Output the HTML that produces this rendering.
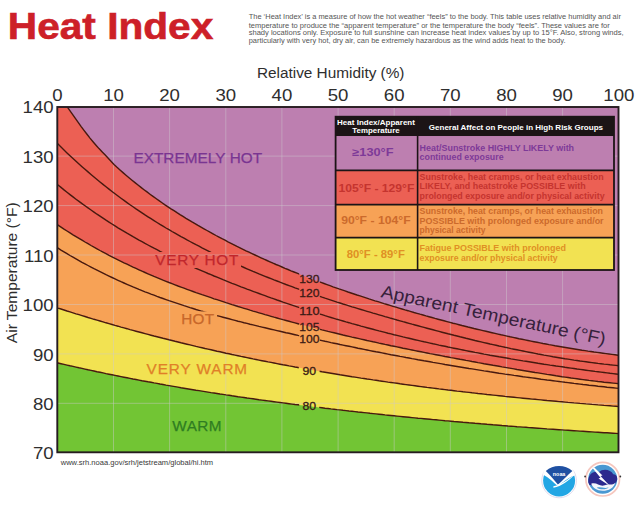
<!DOCTYPE html><html><head><meta charset="utf-8"><style>html,body{margin:0;padding:0;background:#fff;width:640px;height:512px;overflow:hidden}</style></head><body><svg width="640" height="512" viewBox="0 0 640 512" style="display:block;font-family:'Liberation Sans', sans-serif">
<defs>
<clipPath id="plot"><rect x="57.3" y="107.0" width="561.2" height="345.3"/></clipPath>
<mask id="gapmask" maskUnits="userSpaceOnUse" x="0" y="0" width="640" height="512"><rect x="0" y="0" width="640" height="512" fill="#fff"/>
<rect x="299.2" y="272" width="20.6" height="12" fill="#000"/>
<rect x="299.2" y="287" width="20.6" height="12" fill="#000"/>
<rect x="299.2" y="304.5" width="20.6" height="12" fill="#000"/>
<rect x="299.2" y="320.5" width="20.6" height="11" fill="#000"/>
<rect x="299.2" y="332" width="20.6" height="12.5" fill="#000"/>
<rect x="298.8" y="364" width="20.8" height="13" fill="#000"/>
<rect x="299.2" y="399.5" width="20" height="12.5" fill="#000"/>
<rect x="152" y="252" width="89" height="16" fill="#000"/>
<rect x="179" y="311.4" width="38" height="16" fill="#000"/>
</mask>
</defs>
<rect x="0" y="0" width="640" height="512" fill="#fff"/>
<text x="7.8" y="39.2" font-size="36.2" font-weight="bold" fill="#cd2028" stroke="#cd2028" stroke-width="0.6" textLength="205.5" lengthAdjust="spacingAndGlyphs">Heat Index</text>
<text x="248.7" y="19.2" font-size="7.5" fill="#555" textLength="372.2" lengthAdjust="spacingAndGlyphs">The ‘Heat Index’ is a measure of how the hot weather “feels” to the body. This table uses relative humidity and air</text>
<text x="248.7" y="27.5" font-size="7.5" fill="#555" textLength="361.1" lengthAdjust="spacingAndGlyphs">temperature to produce the “apparent temperature” or the temperature the body “feels”. These values are for</text>
<text x="248.7" y="35.45" font-size="7.5" fill="#555" textLength="374.9" lengthAdjust="spacingAndGlyphs">shady locations only. Exposure to full sunshine can increase heat index values by up to 15°F. Also, strong winds,</text>
<text x="248.7" y="43.4" font-size="7.5" fill="#555" textLength="316.8" lengthAdjust="spacingAndGlyphs">particularly with very hot, dry air, can be extremely hazardous as the wind adds heat to the body.</text>
<text x="256.9" y="78.3" font-size="15.5" fill="#2e2e2e" textLength="147.6" lengthAdjust="spacingAndGlyphs">Relative Humidity (%)</text>
<text transform="translate(57.4,101.4) scale(1.07,1)" font-size="17.4" fill="#2e2e2e" text-anchor="middle">0</text>
<text transform="translate(113.5,101.4) scale(1.07,1)" font-size="17.4" fill="#2e2e2e" text-anchor="middle">10</text>
<text transform="translate(169.6,101.4) scale(1.07,1)" font-size="17.4" fill="#2e2e2e" text-anchor="middle">20</text>
<text transform="translate(225.8,101.4) scale(1.07,1)" font-size="17.4" fill="#2e2e2e" text-anchor="middle">30</text>
<text transform="translate(281.9,101.4) scale(1.07,1)" font-size="17.4" fill="#2e2e2e" text-anchor="middle">40</text>
<text transform="translate(338.1,101.4) scale(1.07,1)" font-size="17.4" fill="#2e2e2e" text-anchor="middle">50</text>
<text transform="translate(394.2,101.4) scale(1.07,1)" font-size="17.4" fill="#2e2e2e" text-anchor="middle">60</text>
<text transform="translate(450.3,101.4) scale(1.07,1)" font-size="17.4" fill="#2e2e2e" text-anchor="middle">70</text>
<text transform="translate(506.5,101.4) scale(1.07,1)" font-size="17.4" fill="#2e2e2e" text-anchor="middle">80</text>
<text transform="translate(562.6,101.4) scale(1.07,1)" font-size="17.4" fill="#2e2e2e" text-anchor="middle">90</text>
<text transform="translate(618.8,101.4) scale(1.07,1)" font-size="17.4" fill="#2e2e2e" text-anchor="middle">100</text>
<text transform="translate(53.6,459.4) scale(1.07,1)" font-size="17.4" fill="#2e2e2e" text-anchor="end">70</text>
<text transform="translate(53.6,409.9) scale(1.07,1)" font-size="17.4" fill="#2e2e2e" text-anchor="end">80</text>
<text transform="translate(53.6,360.5) scale(1.07,1)" font-size="17.4" fill="#2e2e2e" text-anchor="end">90</text>
<text transform="translate(53.6,311.1) scale(1.07,1)" font-size="17.4" fill="#2e2e2e" text-anchor="end">100</text>
<text transform="translate(53.6,261.6) scale(1.07,1)" font-size="17.4" fill="#2e2e2e" text-anchor="end">110</text>
<text transform="translate(53.6,212.2) scale(1.07,1)" font-size="17.4" fill="#2e2e2e" text-anchor="end">120</text>
<text transform="translate(53.6,162.7) scale(1.07,1)" font-size="17.4" fill="#2e2e2e" text-anchor="end">130</text>
<text transform="translate(53.6,113.3) scale(1.07,1)" font-size="17.4" fill="#2e2e2e" text-anchor="end">140</text>
<text transform="translate(17.3,343.2) rotate(-90)" x="0" y="0" font-size="15" fill="#2e2e2e" textLength="140.9" lengthAdjust="spacingAndGlyphs">Air Temperature (°F)</text>
<g clip-path="url(#plot)">
<rect x="57.3" y="107.0" width="561.2" height="345.3" fill="#bd7fb0"/>
<path d="M60.0,96.5 L63.0,100.7 L66.0,105.0 L69.0,109.4 L72.0,113.6 L75.0,117.9 L78.0,122.1 L81.0,126.3 L84.0,130.3 L87.0,134.2 L90.0,138.1 L93.0,141.7 L96.0,145.2 L99.0,148.6 L102.0,151.7 L105.0,154.7 L108.0,157.9 L111.0,161.2 L114.0,164.4 L117.0,167.3 L120.0,170.0 L123.0,172.6 L126.0,175.2 L129.0,177.7 L132.0,180.2 L135.0,182.6 L138.0,185.0 L141.0,187.4 L144.0,189.7 L147.0,191.9 L150.0,194.2 L153.0,196.4 L156.0,198.5 L159.0,200.6 L162.0,202.7 L165.0,204.8 L168.0,206.8 L171.0,208.8 L174.0,210.7 L177.0,212.7 L180.0,214.6 L183.0,216.4 L186.0,218.3 L189.0,220.1 L192.0,221.9 L195.0,223.6 L198.0,225.4 L201.0,227.1 L204.0,228.8 L207.0,230.5 L210.0,232.2 L213.0,233.8 L216.0,235.5 L219.0,237.1 L222.0,238.7 L225.0,240.2 L228.0,241.8 L231.0,243.3 L234.0,244.8 L237.0,246.4 L240.0,247.8 L243.0,249.3 L246.0,250.8 L249.0,252.2 L252.0,253.6 L255.0,255.0 L258.0,256.4 L261.0,257.8 L264.0,259.2 L267.0,260.5 L270.0,261.8 L273.0,263.2 L276.0,264.5 L279.0,265.7 L282.0,267.0 L285.0,268.3 L288.0,269.5 L291.0,270.8 L294.0,272.0 L297.0,273.2 L300.0,274.4 L303.0,275.6 L306.0,276.7 L309.0,277.9 L312.0,279.0 L315.0,280.2 L318.0,281.3 L321.0,282.4 L324.0,283.5 L327.0,284.6 L330.0,285.7 L333.0,286.8 L336.0,287.8 L339.0,288.9 L342.0,289.9 L345.0,290.9 L348.0,292.0 L351.0,293.0 L354.0,294.0 L357.0,295.0 L360.0,295.9 L363.0,296.9 L366.0,297.9 L369.0,298.9 L372.0,299.8 L375.0,300.8 L378.0,301.7 L381.0,302.6 L384.0,303.6 L387.0,304.5 L390.0,305.4 L393.0,306.3 L396.0,307.2 L399.0,308.1 L402.0,309.0 L405.0,309.9 L408.0,310.7 L411.0,311.6 L414.0,312.5 L417.0,313.3 L420.0,314.2 L423.0,315.0 L426.0,315.9 L429.0,316.7 L432.0,317.5 L435.0,318.4 L438.0,319.2 L441.0,320.0 L444.0,320.8 L447.0,321.6 L450.0,322.4 L453.0,323.2 L456.0,323.9 L459.0,324.7 L462.0,325.5 L465.0,326.2 L468.0,327.0 L471.0,327.7 L474.0,328.5 L477.0,329.2 L480.0,329.9 L483.0,330.6 L486.0,331.3 L489.0,332.0 L492.0,332.7 L495.0,333.4 L498.0,334.1 L501.0,334.8 L504.0,335.4 L507.0,336.1 L510.0,336.8 L513.0,337.4 L516.0,338.0 L519.0,338.7 L522.0,339.3 L525.0,339.9 L528.0,340.5 L531.0,341.1 L534.0,341.7 L537.0,342.3 L540.0,342.9 L543.0,343.5 L546.0,344.0 L549.0,344.6 L552.0,345.1 L555.0,345.7 L558.0,346.2 L561.0,346.7 L564.0,347.2 L567.0,347.7 L570.0,348.2 L573.0,348.7 L576.0,349.2 L579.0,349.7 L582.0,350.2 L585.0,350.6 L588.0,351.1 L591.0,351.5 L594.0,352.0 L597.0,352.4 L600.0,352.8 L603.0,353.2 L606.0,353.6 L609.0,354.0 L612.0,354.4 L615.0,354.8 L618.0,355.2 L621.0,355.5 L624.0,355.9 L625.0,356.0 L625.0,460 L40,460 L40,96.5 Z" fill="#ec6054"/>
<path d="M52.0,221.1 L55.0,223.1 L58.0,225.1 L61.0,227.1 L64.0,229.1 L67.0,231.0 L70.0,232.9 L73.0,234.8 L76.0,236.6 L79.0,238.4 L82.0,240.2 L85.0,242.0 L88.0,243.7 L91.0,245.5 L94.0,247.2 L97.0,248.8 L100.0,250.5 L103.0,252.1 L106.0,253.7 L109.0,255.3 L112.0,256.8 L115.0,258.3 L118.0,259.8 L121.0,261.3 L124.0,262.8 L127.0,264.2 L130.0,265.7 L133.0,267.1 L136.0,268.4 L139.0,269.8 L142.0,271.2 L145.0,272.5 L148.0,273.8 L151.0,275.1 L154.0,276.4 L157.0,277.6 L160.0,278.8 L163.0,280.1 L166.0,281.3 L169.0,282.5 L172.0,283.6 L175.0,284.8 L178.0,286.0 L181.0,287.1 L184.0,288.2 L187.0,289.3 L190.0,290.4 L193.0,291.5 L196.0,292.6 L199.0,293.6 L202.0,294.7 L205.0,295.7 L208.0,296.7 L211.0,297.7 L214.0,298.8 L217.0,299.7 L220.0,300.7 L223.0,301.7 L226.0,302.7 L229.0,303.6 L232.0,304.6 L235.0,305.5 L238.0,306.5 L241.0,307.4 L244.0,308.3 L247.0,309.2 L250.0,310.2 L253.0,311.1 L256.0,311.9 L259.0,312.8 L262.0,313.7 L265.0,314.6 L268.0,315.4 L271.0,316.3 L274.0,317.2 L277.0,318.0 L280.0,318.8 L283.0,319.7 L286.0,320.5 L289.0,321.3 L292.0,322.1 L295.0,322.9 L298.0,323.7 L301.0,324.5 L304.0,325.3 L307.0,326.1 L310.0,326.8 L313.0,327.6 L316.0,328.4 L319.0,329.1 L322.0,329.9 L325.0,330.6 L328.0,331.4 L331.0,332.1 L334.0,332.8 L337.0,333.5 L340.0,334.2 L343.0,335.0 L346.0,335.7 L349.0,336.4 L352.0,337.1 L355.0,337.7 L358.0,338.4 L361.0,339.1 L364.0,339.8 L367.0,340.5 L370.0,341.1 L373.0,341.8 L376.0,342.4 L379.0,343.1 L382.0,343.7 L385.0,344.4 L388.0,345.0 L391.0,345.7 L394.0,346.3 L397.0,346.9 L400.0,347.5 L403.0,348.2 L406.0,348.8 L409.0,349.4 L412.0,350.0 L415.0,350.6 L418.0,351.2 L421.0,351.8 L424.0,352.4 L427.0,353.0 L430.0,353.6 L433.0,354.1 L436.0,354.7 L439.0,355.3 L442.0,355.9 L445.0,356.5 L448.0,357.0 L451.0,357.6 L454.0,358.1 L457.0,358.7 L460.0,359.3 L463.0,359.8 L466.0,360.4 L469.0,360.9 L472.0,361.5 L475.0,362.0 L478.0,362.6 L481.0,363.1 L484.0,363.7 L487.0,364.2 L490.0,364.7 L493.0,365.3 L496.0,365.8 L499.0,366.3 L502.0,366.9 L505.0,367.4 L508.0,367.9 L511.0,368.4 L514.0,368.9 L517.0,369.5 L520.0,370.0 L523.0,370.5 L526.0,371.0 L529.0,371.5 L532.0,372.0 L535.0,372.5 L538.0,372.9 L541.0,373.4 L544.0,373.9 L547.0,374.4 L550.0,374.8 L553.0,375.3 L556.0,375.8 L559.0,376.2 L562.0,376.7 L565.0,377.1 L568.0,377.5 L571.0,378.0 L574.0,378.4 L577.0,378.8 L580.0,379.2 L583.0,379.6 L586.0,380.0 L589.0,380.4 L592.0,380.7 L595.0,381.1 L598.0,381.5 L601.0,381.8 L604.0,382.2 L607.0,382.5 L610.0,382.8 L613.0,383.1 L616.0,383.4 L619.0,383.7 L622.0,384.0 L625.0,384.3 L625.0,460 L40,460 L40,221.1 Z" fill="#f7a256"/>
<path d="M52.0,306.1 L55.0,307.1 L58.0,308.1 L61.0,309.0 L64.0,310.0 L67.0,311.0 L70.0,311.9 L73.0,312.8 L76.0,313.8 L79.0,314.7 L82.0,315.6 L85.0,316.5 L88.0,317.5 L91.0,318.4 L94.0,319.3 L97.0,320.1 L100.0,321.0 L103.0,321.9 L106.0,322.8 L109.0,323.6 L112.0,324.5 L115.0,325.4 L118.0,326.2 L121.0,327.1 L124.0,327.9 L127.0,328.7 L130.0,329.6 L133.0,330.4 L136.0,331.2 L139.0,332.0 L142.0,332.8 L145.0,333.6 L148.0,334.4 L151.0,335.2 L154.0,336.0 L157.0,336.7 L160.0,337.5 L163.0,338.3 L166.0,339.0 L169.0,339.8 L172.0,340.5 L175.0,341.3 L178.0,342.0 L181.0,342.8 L184.0,343.5 L187.0,344.2 L190.0,344.9 L193.0,345.6 L196.0,346.4 L199.0,347.1 L202.0,347.8 L205.0,348.5 L208.0,349.1 L211.0,349.8 L214.0,350.5 L217.0,351.2 L220.0,351.8 L223.0,352.5 L226.0,353.2 L229.0,353.8 L232.0,354.5 L235.0,355.1 L238.0,355.7 L241.0,356.4 L244.0,357.0 L247.0,357.6 L250.0,358.2 L253.0,358.9 L256.0,359.5 L259.0,360.1 L262.0,360.7 L265.0,361.3 L268.0,361.9 L271.0,362.4 L274.0,363.0 L277.0,363.6 L280.0,364.2 L283.0,364.8 L286.0,365.3 L289.0,365.9 L292.0,366.4 L295.0,367.0 L298.0,367.5 L301.0,368.1 L304.0,368.6 L307.0,369.1 L310.0,369.7 L313.0,370.2 L316.0,370.7 L319.0,371.2 L322.0,371.8 L325.0,372.3 L328.0,372.8 L331.0,373.3 L334.0,373.8 L337.0,374.3 L340.0,374.8 L343.0,375.2 L346.0,375.7 L349.0,376.2 L352.0,376.7 L355.0,377.1 L358.0,377.6 L361.0,378.1 L364.0,378.5 L367.0,379.0 L370.0,379.4 L373.0,379.9 L376.0,380.3 L379.0,380.8 L382.0,381.2 L385.0,381.6 L388.0,382.1 L391.0,382.5 L394.0,382.9 L397.0,383.3 L400.0,383.8 L403.0,384.2 L406.0,384.6 L409.0,385.0 L412.0,385.4 L415.0,385.8 L418.0,386.2 L421.0,386.6 L424.0,387.0 L427.0,387.4 L430.0,387.7 L433.0,388.1 L436.0,388.5 L439.0,388.9 L442.0,389.2 L445.0,389.6 L448.0,390.0 L451.0,390.3 L454.0,390.7 L457.0,391.1 L460.0,391.4 L463.0,391.8 L466.0,392.1 L469.0,392.4 L472.0,392.8 L475.0,393.1 L478.0,393.5 L481.0,393.8 L484.0,394.1 L487.0,394.5 L490.0,394.8 L493.0,395.1 L496.0,395.4 L499.0,395.7 L502.0,396.0 L505.0,396.4 L508.0,396.7 L511.0,397.0 L514.0,397.3 L517.0,397.6 L520.0,397.9 L523.0,398.2 L526.0,398.5 L529.0,398.8 L532.0,399.1 L535.0,399.3 L538.0,399.6 L541.0,399.9 L544.0,400.2 L547.0,400.5 L550.0,400.7 L553.0,401.0 L556.0,401.3 L559.0,401.6 L562.0,401.8 L565.0,402.1 L568.0,402.4 L571.0,402.6 L574.0,402.9 L577.0,403.1 L580.0,403.4 L583.0,403.6 L586.0,403.9 L589.0,404.1 L592.0,404.4 L595.0,404.6 L598.0,404.9 L601.0,405.1 L604.0,405.4 L607.0,405.6 L610.0,405.8 L613.0,406.1 L616.0,406.3 L619.0,406.6 L622.0,406.8 L625.0,407.0 L625.0,460 L40,460 L40,306.1 Z" fill="#f2e252"/>
<path d="M52.0,361.6 L55.0,362.3 L58.0,363.0 L61.0,363.7 L64.0,364.4 L67.0,365.1 L70.0,365.8 L73.0,366.4 L76.0,367.1 L79.0,367.8 L82.0,368.4 L85.0,369.1 L88.0,369.8 L91.0,370.4 L94.0,371.0 L97.0,371.7 L100.0,372.3 L103.0,372.9 L106.0,373.6 L109.0,374.2 L112.0,374.8 L115.0,375.4 L118.0,376.0 L121.0,376.6 L124.0,377.2 L127.0,377.8 L130.0,378.4 L133.0,379.0 L136.0,379.5 L139.0,380.1 L142.0,380.7 L145.0,381.2 L148.0,381.8 L151.0,382.3 L154.0,382.9 L157.0,383.4 L160.0,384.0 L163.0,384.5 L166.0,385.1 L169.0,385.6 L172.0,386.1 L175.0,386.6 L178.0,387.1 L181.0,387.7 L184.0,388.2 L187.0,388.7 L190.0,389.2 L193.0,389.7 L196.0,390.2 L199.0,390.6 L202.0,391.1 L205.0,391.6 L208.0,392.1 L211.0,392.6 L214.0,393.0 L217.0,393.5 L220.0,394.0 L223.0,394.4 L226.0,394.9 L229.0,395.3 L232.0,395.8 L235.0,396.2 L238.0,396.7 L241.0,397.1 L244.0,397.5 L247.0,398.0 L250.0,398.4 L253.0,398.8 L256.0,399.2 L259.0,399.7 L262.0,400.1 L265.0,400.5 L268.0,400.9 L271.0,401.3 L274.0,401.7 L277.0,402.1 L280.0,402.5 L283.0,402.9 L286.0,403.3 L289.0,403.7 L292.0,404.1 L295.0,404.5 L298.0,404.8 L301.0,405.2 L304.0,405.6 L307.0,406.0 L310.0,406.3 L313.0,406.7 L316.0,407.1 L319.0,407.4 L322.0,407.8 L325.0,408.2 L328.0,408.5 L331.0,408.9 L334.0,409.2 L337.0,409.6 L340.0,409.9 L343.0,410.3 L346.0,410.6 L349.0,411.0 L352.0,411.3 L355.0,411.6 L358.0,412.0 L361.0,412.3 L364.0,412.6 L367.0,412.9 L370.0,413.3 L373.0,413.6 L376.0,413.9 L379.0,414.2 L382.0,414.5 L385.0,414.9 L388.0,415.2 L391.0,415.5 L394.0,415.8 L397.0,416.1 L400.0,416.4 L403.0,416.7 L406.0,417.0 L409.0,417.3 L412.0,417.6 L415.0,417.9 L418.0,418.2 L421.0,418.4 L424.0,418.7 L427.0,419.0 L430.0,419.3 L433.0,419.6 L436.0,419.8 L439.0,420.1 L442.0,420.4 L445.0,420.7 L448.0,420.9 L451.0,421.2 L454.0,421.5 L457.0,421.7 L460.0,422.0 L463.0,422.3 L466.0,422.5 L469.0,422.8 L472.0,423.0 L475.0,423.3 L478.0,423.5 L481.0,423.8 L484.0,424.0 L487.0,424.3 L490.0,424.5 L493.0,424.8 L496.0,425.0 L499.0,425.2 L502.0,425.5 L505.0,425.7 L508.0,426.0 L511.0,426.2 L514.0,426.4 L517.0,426.7 L520.0,426.9 L523.0,427.1 L526.0,427.3 L529.0,427.6 L532.0,427.8 L535.0,428.0 L538.0,428.2 L541.0,428.4 L544.0,428.6 L547.0,428.9 L550.0,429.1 L553.0,429.3 L556.0,429.5 L559.0,429.7 L562.0,429.9 L565.0,430.1 L568.0,430.3 L571.0,430.5 L574.0,430.7 L577.0,430.9 L580.0,431.1 L583.0,431.3 L586.0,431.5 L589.0,431.7 L592.0,431.9 L595.0,432.1 L598.0,432.3 L601.0,432.5 L604.0,432.7 L607.0,432.8 L610.0,433.0 L613.0,433.2 L616.0,433.4 L619.0,433.6 L622.0,433.8 L625.0,433.9 L625.0,460 L40,460 L40,361.6 Z" fill="#72c534"/>
<line x1="113.5" y1="107.0" x2="113.5" y2="452.3" stroke="#cfcacf" stroke-opacity="0.45" stroke-width="1"/>
<line x1="169.6" y1="107.0" x2="169.6" y2="452.3" stroke="#cfcacf" stroke-opacity="0.45" stroke-width="1"/>
<line x1="225.8" y1="107.0" x2="225.8" y2="452.3" stroke="#cfcacf" stroke-opacity="0.45" stroke-width="1"/>
<line x1="281.9" y1="107.0" x2="281.9" y2="452.3" stroke="#cfcacf" stroke-opacity="0.45" stroke-width="1"/>
<line x1="338.1" y1="107.0" x2="338.1" y2="452.3" stroke="#cfcacf" stroke-opacity="0.45" stroke-width="1"/>
<line x1="394.2" y1="107.0" x2="394.2" y2="452.3" stroke="#cfcacf" stroke-opacity="0.45" stroke-width="1"/>
<line x1="450.3" y1="107.0" x2="450.3" y2="452.3" stroke="#cfcacf" stroke-opacity="0.45" stroke-width="1"/>
<line x1="506.5" y1="107.0" x2="506.5" y2="452.3" stroke="#cfcacf" stroke-opacity="0.45" stroke-width="1"/>
<line x1="562.6" y1="107.0" x2="562.6" y2="452.3" stroke="#cfcacf" stroke-opacity="0.45" stroke-width="1"/>
<line x1="57.3" y1="403.3" x2="618.5" y2="403.3" stroke="#cfcacf" stroke-opacity="0.45" stroke-width="1"/>
<line x1="57.3" y1="353.9" x2="618.5" y2="353.9" stroke="#cfcacf" stroke-opacity="0.45" stroke-width="1"/>
<line x1="57.3" y1="304.5" x2="618.5" y2="304.5" stroke="#cfcacf" stroke-opacity="0.45" stroke-width="1"/>
<line x1="57.3" y1="255.0" x2="618.5" y2="255.0" stroke="#cfcacf" stroke-opacity="0.45" stroke-width="1"/>
<line x1="57.3" y1="205.6" x2="618.5" y2="205.6" stroke="#cfcacf" stroke-opacity="0.45" stroke-width="1"/>
<line x1="57.3" y1="156.1" x2="618.5" y2="156.1" stroke="#cfcacf" stroke-opacity="0.45" stroke-width="1"/>
<g mask="url(#gapmask)" fill="none" stroke="#48190f" stroke-width="1.4">
<path d="M60.0,96.5 L63.0,100.7 L66.0,105.0 L69.0,109.4 L72.0,113.6 L75.0,117.9 L78.0,122.1 L81.0,126.3 L84.0,130.3 L87.0,134.2 L90.0,138.1 L93.0,141.7 L96.0,145.2 L99.0,148.6 L102.0,151.7 L105.0,154.7 L108.0,157.9 L111.0,161.2 L114.0,164.4 L117.0,167.3 L120.0,170.0 L123.0,172.6 L126.0,175.2 L129.0,177.7 L132.0,180.2 L135.0,182.6 L138.0,185.0 L141.0,187.4 L144.0,189.7 L147.0,191.9 L150.0,194.2 L153.0,196.4 L156.0,198.5 L159.0,200.6 L162.0,202.7 L165.0,204.8 L168.0,206.8 L171.0,208.8 L174.0,210.7 L177.0,212.7 L180.0,214.6 L183.0,216.4 L186.0,218.3 L189.0,220.1 L192.0,221.9 L195.0,223.6 L198.0,225.4 L201.0,227.1 L204.0,228.8 L207.0,230.5 L210.0,232.2 L213.0,233.8 L216.0,235.5 L219.0,237.1 L222.0,238.7 L225.0,240.2 L228.0,241.8 L231.0,243.3 L234.0,244.8 L237.0,246.4 L240.0,247.8 L243.0,249.3 L246.0,250.8 L249.0,252.2 L252.0,253.6 L255.0,255.0 L258.0,256.4 L261.0,257.8 L264.0,259.2 L267.0,260.5 L270.0,261.8 L273.0,263.2 L276.0,264.5 L279.0,265.7 L282.0,267.0 L285.0,268.3 L288.0,269.5 L291.0,270.8 L294.0,272.0 L297.0,273.2 L300.0,274.4 L303.0,275.6 L306.0,276.7 L309.0,277.9 L312.0,279.0 L315.0,280.2 L318.0,281.3 L321.0,282.4 L324.0,283.5 L327.0,284.6 L330.0,285.7 L333.0,286.8 L336.0,287.8 L339.0,288.9 L342.0,289.9 L345.0,290.9 L348.0,292.0 L351.0,293.0 L354.0,294.0 L357.0,295.0 L360.0,295.9 L363.0,296.9 L366.0,297.9 L369.0,298.9 L372.0,299.8 L375.0,300.8 L378.0,301.7 L381.0,302.6 L384.0,303.6 L387.0,304.5 L390.0,305.4 L393.0,306.3 L396.0,307.2 L399.0,308.1 L402.0,309.0 L405.0,309.9 L408.0,310.7 L411.0,311.6 L414.0,312.5 L417.0,313.3 L420.0,314.2 L423.0,315.0 L426.0,315.9 L429.0,316.7 L432.0,317.5 L435.0,318.4 L438.0,319.2 L441.0,320.0 L444.0,320.8 L447.0,321.6 L450.0,322.4 L453.0,323.2 L456.0,323.9 L459.0,324.7 L462.0,325.5 L465.0,326.2 L468.0,327.0 L471.0,327.7 L474.0,328.5 L477.0,329.2 L480.0,329.9 L483.0,330.6 L486.0,331.3 L489.0,332.0 L492.0,332.7 L495.0,333.4 L498.0,334.1 L501.0,334.8 L504.0,335.4 L507.0,336.1 L510.0,336.8 L513.0,337.4 L516.0,338.0 L519.0,338.7 L522.0,339.3 L525.0,339.9 L528.0,340.5 L531.0,341.1 L534.0,341.7 L537.0,342.3 L540.0,342.9 L543.0,343.5 L546.0,344.0 L549.0,344.6 L552.0,345.1 L555.0,345.7 L558.0,346.2 L561.0,346.7 L564.0,347.2 L567.0,347.7 L570.0,348.2 L573.0,348.7 L576.0,349.2 L579.0,349.7 L582.0,350.2 L585.0,350.6 L588.0,351.1 L591.0,351.5 L594.0,352.0 L597.0,352.4 L600.0,352.8 L603.0,353.2 L606.0,353.6 L609.0,354.0 L612.0,354.4 L615.0,354.8 L618.0,355.2 L621.0,355.5 L624.0,355.9 L625.0,356.0"/>
<path d="M52.0,138.1 L55.0,141.1 L58.0,144.1 L61.0,147.1 L64.0,150.0 L67.0,152.9 L70.0,155.7 L73.0,158.5 L76.0,161.3 L79.0,164.0 L82.0,166.7 L85.0,169.3 L88.0,171.9 L91.0,174.5 L94.0,177.0 L97.0,179.5 L100.0,182.0 L103.0,184.4 L106.0,186.8 L109.0,189.1 L112.0,191.5 L115.0,193.8 L118.0,196.0 L121.0,198.2 L124.0,200.4 L127.0,202.6 L130.0,204.7 L133.0,206.8 L136.0,208.9 L139.0,210.9 L142.0,212.9 L145.0,214.9 L148.0,216.8 L151.0,218.7 L154.0,220.6 L157.0,222.5 L160.0,224.4 L163.0,226.2 L166.0,228.0 L169.0,229.7 L172.0,231.5 L175.0,233.2 L178.0,234.9 L181.0,236.6 L184.0,238.2 L187.0,239.9 L190.0,241.5 L193.0,243.1 L196.0,244.7 L199.0,246.2 L202.0,247.8 L205.0,249.3 L208.0,250.8 L211.0,252.3 L214.0,253.7 L217.0,255.2 L220.0,256.6 L223.0,258.0 L226.0,259.4 L229.0,260.8 L232.0,262.2 L235.0,263.5 L238.0,264.9 L241.0,266.2 L244.0,267.5 L247.0,268.8 L250.0,270.1 L253.0,271.4 L256.0,272.6 L259.0,273.9 L262.0,275.1 L265.0,276.3 L268.0,277.5 L271.0,278.7 L274.0,279.9 L277.0,281.0 L280.0,282.2 L283.0,283.3 L286.0,284.5 L289.0,285.6 L292.0,286.7 L295.0,287.8 L298.0,288.8 L301.0,289.9 L304.0,291.0 L307.0,292.0 L310.0,293.1 L313.0,294.1 L316.0,295.1 L319.0,296.1 L322.0,297.2 L325.0,298.2 L328.0,299.1 L331.0,300.1 L334.0,301.1 L337.0,302.1 L340.0,303.0 L343.0,304.0 L346.0,304.9 L349.0,305.8 L352.0,306.8 L355.0,307.7 L358.0,308.6 L361.0,309.5 L364.0,310.4 L367.0,311.3 L370.0,312.2 L373.0,313.1 L376.0,313.9 L379.0,314.8 L382.0,315.7 L385.0,316.6 L388.0,317.4 L391.0,318.3 L394.0,319.1 L397.0,320.0 L400.0,320.8 L403.0,321.7 L406.0,322.5 L409.0,323.3 L412.0,324.2 L415.0,325.0 L418.0,325.8 L421.0,326.6 L424.0,327.4 L427.0,328.2 L430.0,329.0 L433.0,329.8 L436.0,330.6 L439.0,331.4 L442.0,332.2 L445.0,333.0 L448.0,333.8 L451.0,334.5 L454.0,335.3 L457.0,336.0 L460.0,336.8 L463.0,337.5 L466.0,338.3 L469.0,339.0 L472.0,339.7 L475.0,340.5 L478.0,341.2 L481.0,341.9 L484.0,342.6 L487.0,343.3 L490.0,344.0 L493.0,344.6 L496.0,345.3 L499.0,346.0 L502.0,346.6 L505.0,347.3 L508.0,347.9 L511.0,348.6 L514.0,349.2 L517.0,349.8 L520.0,350.4 L523.0,351.0 L526.0,351.6 L529.0,352.2 L532.0,352.8 L535.0,353.4 L538.0,354.0 L541.0,354.5 L544.0,355.1 L547.0,355.6 L550.0,356.1 L553.0,356.7 L556.0,357.2 L559.0,357.7 L562.0,358.2 L565.0,358.7 L568.0,359.1 L571.0,359.6 L574.0,360.1 L577.0,360.5 L580.0,361.0 L583.0,361.4 L586.0,361.8 L589.0,362.2 L592.0,362.6 L595.0,363.0 L598.0,363.4 L601.0,363.7 L604.0,364.1 L607.0,364.4 L610.0,364.8 L613.0,365.1 L616.0,365.4 L619.0,365.7 L622.0,366.0 L625.0,366.3"/>
<path d="M52.0,180.0 L55.0,182.5 L58.0,185.0 L61.0,187.4 L64.0,189.9 L67.0,192.2 L70.0,194.6 L73.0,196.9 L76.0,199.2 L79.0,201.4 L82.0,203.6 L85.0,205.8 L88.0,207.9 L91.0,210.0 L94.0,212.1 L97.0,214.2 L100.0,216.2 L103.0,218.2 L106.0,220.2 L109.0,222.1 L112.0,224.0 L115.0,225.9 L118.0,227.8 L121.0,229.6 L124.0,231.4 L127.0,233.2 L130.0,234.9 L133.0,236.7 L136.0,238.4 L139.0,240.1 L142.0,241.7 L145.0,243.4 L148.0,245.0 L151.0,246.6 L154.0,248.2 L157.0,249.7 L160.0,251.3 L163.0,252.8 L166.0,254.3 L169.0,255.7 L172.0,257.2 L175.0,258.6 L178.0,260.1 L181.0,261.5 L184.0,262.9 L187.0,264.2 L190.0,265.6 L193.0,266.9 L196.0,268.3 L199.0,269.6 L202.0,270.9 L205.0,272.2 L208.0,273.5 L211.0,274.7 L214.0,276.0 L217.0,277.2 L220.0,278.4 L223.0,279.7 L226.0,280.9 L229.0,282.1 L232.0,283.3 L235.0,284.4 L238.0,285.6 L241.0,286.8 L244.0,287.9 L247.0,289.1 L250.0,290.2 L253.0,291.3 L256.0,292.4 L259.0,293.5 L262.0,294.6 L265.0,295.7 L268.0,296.8 L271.0,297.9 L274.0,298.9 L277.0,300.0 L280.0,301.0 L283.0,302.1 L286.0,303.1 L289.0,304.1 L292.0,305.1 L295.0,306.1 L298.0,307.1 L301.0,308.1 L304.0,309.1 L307.0,310.0 L310.0,311.0 L313.0,311.9 L316.0,312.9 L319.0,313.8 L322.0,314.7 L325.0,315.7 L328.0,316.6 L331.0,317.5 L334.0,318.4 L337.0,319.3 L340.0,320.1 L343.0,321.0 L346.0,321.9 L349.0,322.7 L352.0,323.6 L355.0,324.4 L358.0,325.2 L361.0,326.1 L364.0,326.9 L367.0,327.7 L370.0,328.5 L373.0,329.3 L376.0,330.1 L379.0,330.9 L382.0,331.6 L385.0,332.4 L388.0,333.2 L391.0,333.9 L394.0,334.7 L397.0,335.4 L400.0,336.1 L403.0,336.9 L406.0,337.6 L409.0,338.3 L412.0,339.0 L415.0,339.7 L418.0,340.4 L421.0,341.1 L424.0,341.8 L427.0,342.4 L430.0,343.1 L433.0,343.8 L436.0,344.4 L439.0,345.1 L442.0,345.7 L445.0,346.3 L448.0,347.0 L451.0,347.6 L454.0,348.2 L457.0,348.8 L460.0,349.4 L463.0,350.0 L466.0,350.6 L469.0,351.2 L472.0,351.8 L475.0,352.4 L478.0,352.9 L481.0,353.5 L484.0,354.1 L487.0,354.6 L490.0,355.2 L493.0,355.7 L496.0,356.2 L499.0,356.8 L502.0,357.3 L505.0,357.8 L508.0,358.3 L511.0,358.9 L514.0,359.4 L517.0,359.9 L520.0,360.4 L523.0,360.9 L526.0,361.3 L529.0,361.8 L532.0,362.3 L535.0,362.8 L538.0,363.3 L541.0,363.7 L544.0,364.2 L547.0,364.6 L550.0,365.1 L553.0,365.5 L556.0,366.0 L559.0,366.4 L562.0,366.8 L565.0,367.3 L568.0,367.7 L571.0,368.1 L574.0,368.5 L577.0,369.0 L580.0,369.4 L583.0,369.8 L586.0,370.2 L589.0,370.6 L592.0,371.0 L595.0,371.4 L598.0,371.7 L601.0,372.1 L604.0,372.5 L607.0,372.9 L610.0,373.3 L613.0,373.6 L616.0,374.0 L619.0,374.4 L622.0,374.7 L625.0,375.1"/>
<path d="M52.0,221.1 L55.0,223.1 L58.0,225.1 L61.0,227.1 L64.0,229.1 L67.0,231.0 L70.0,232.9 L73.0,234.8 L76.0,236.6 L79.0,238.4 L82.0,240.2 L85.0,242.0 L88.0,243.7 L91.0,245.5 L94.0,247.2 L97.0,248.8 L100.0,250.5 L103.0,252.1 L106.0,253.7 L109.0,255.3 L112.0,256.8 L115.0,258.3 L118.0,259.8 L121.0,261.3 L124.0,262.8 L127.0,264.2 L130.0,265.7 L133.0,267.1 L136.0,268.4 L139.0,269.8 L142.0,271.2 L145.0,272.5 L148.0,273.8 L151.0,275.1 L154.0,276.4 L157.0,277.6 L160.0,278.8 L163.0,280.1 L166.0,281.3 L169.0,282.5 L172.0,283.6 L175.0,284.8 L178.0,286.0 L181.0,287.1 L184.0,288.2 L187.0,289.3 L190.0,290.4 L193.0,291.5 L196.0,292.6 L199.0,293.6 L202.0,294.7 L205.0,295.7 L208.0,296.7 L211.0,297.7 L214.0,298.8 L217.0,299.7 L220.0,300.7 L223.0,301.7 L226.0,302.7 L229.0,303.6 L232.0,304.6 L235.0,305.5 L238.0,306.5 L241.0,307.4 L244.0,308.3 L247.0,309.2 L250.0,310.2 L253.0,311.1 L256.0,311.9 L259.0,312.8 L262.0,313.7 L265.0,314.6 L268.0,315.4 L271.0,316.3 L274.0,317.2 L277.0,318.0 L280.0,318.8 L283.0,319.7 L286.0,320.5 L289.0,321.3 L292.0,322.1 L295.0,322.9 L298.0,323.7 L301.0,324.5 L304.0,325.3 L307.0,326.1 L310.0,326.8 L313.0,327.6 L316.0,328.4 L319.0,329.1 L322.0,329.9 L325.0,330.6 L328.0,331.4 L331.0,332.1 L334.0,332.8 L337.0,333.5 L340.0,334.2 L343.0,335.0 L346.0,335.7 L349.0,336.4 L352.0,337.1 L355.0,337.7 L358.0,338.4 L361.0,339.1 L364.0,339.8 L367.0,340.5 L370.0,341.1 L373.0,341.8 L376.0,342.4 L379.0,343.1 L382.0,343.7 L385.0,344.4 L388.0,345.0 L391.0,345.7 L394.0,346.3 L397.0,346.9 L400.0,347.5 L403.0,348.2 L406.0,348.8 L409.0,349.4 L412.0,350.0 L415.0,350.6 L418.0,351.2 L421.0,351.8 L424.0,352.4 L427.0,353.0 L430.0,353.6 L433.0,354.1 L436.0,354.7 L439.0,355.3 L442.0,355.9 L445.0,356.5 L448.0,357.0 L451.0,357.6 L454.0,358.1 L457.0,358.7 L460.0,359.3 L463.0,359.8 L466.0,360.4 L469.0,360.9 L472.0,361.5 L475.0,362.0 L478.0,362.6 L481.0,363.1 L484.0,363.7 L487.0,364.2 L490.0,364.7 L493.0,365.3 L496.0,365.8 L499.0,366.3 L502.0,366.9 L505.0,367.4 L508.0,367.9 L511.0,368.4 L514.0,368.9 L517.0,369.5 L520.0,370.0 L523.0,370.5 L526.0,371.0 L529.0,371.5 L532.0,372.0 L535.0,372.5 L538.0,372.9 L541.0,373.4 L544.0,373.9 L547.0,374.4 L550.0,374.8 L553.0,375.3 L556.0,375.8 L559.0,376.2 L562.0,376.7 L565.0,377.1 L568.0,377.5 L571.0,378.0 L574.0,378.4 L577.0,378.8 L580.0,379.2 L583.0,379.6 L586.0,380.0 L589.0,380.4 L592.0,380.7 L595.0,381.1 L598.0,381.5 L601.0,381.8 L604.0,382.2 L607.0,382.5 L610.0,382.8 L613.0,383.1 L616.0,383.4 L619.0,383.7 L622.0,384.0 L625.0,384.3"/>
<path d="M52.0,244.4 L55.0,246.3 L58.0,248.2 L61.0,250.1 L64.0,251.9 L67.0,253.7 L70.0,255.5 L73.0,257.2 L76.0,258.9 L79.0,260.6 L82.0,262.3 L85.0,263.9 L88.0,265.5 L91.0,267.1 L94.0,268.7 L97.0,270.2 L100.0,271.7 L103.0,273.2 L106.0,274.7 L109.0,276.1 L112.0,277.5 L115.0,278.9 L118.0,280.3 L121.0,281.7 L124.0,283.0 L127.0,284.3 L130.0,285.6 L133.0,286.9 L136.0,288.1 L139.0,289.4 L142.0,290.6 L145.0,291.8 L148.0,292.9 L151.0,294.1 L154.0,295.2 L157.0,296.4 L160.0,297.5 L163.0,298.5 L166.0,299.6 L169.0,300.7 L172.0,301.7 L175.0,302.7 L178.0,303.7 L181.0,304.7 L184.0,305.7 L187.0,306.6 L190.0,307.6 L193.0,308.5 L196.0,309.5 L199.0,310.4 L202.0,311.3 L205.0,312.1 L208.0,313.0 L211.0,313.9 L214.0,314.7 L217.0,315.6 L220.0,316.4 L223.0,317.2 L226.0,318.0 L229.0,318.8 L232.0,319.6 L235.0,320.4 L238.0,321.2 L241.0,321.9 L244.0,322.7 L247.0,323.4 L250.0,324.2 L253.0,324.9 L256.0,325.6 L259.0,326.4 L262.0,327.1 L265.0,327.8 L268.0,328.5 L271.0,329.2 L274.0,329.9 L277.0,330.6 L280.0,331.3 L283.0,332.0 L286.0,332.7 L289.0,333.3 L292.0,334.0 L295.0,334.7 L298.0,335.4 L301.0,336.0 L304.0,336.7 L307.0,337.4 L310.0,338.0 L313.0,338.7 L316.0,339.3 L319.0,340.0 L322.0,340.6 L325.0,341.3 L328.0,341.9 L331.0,342.6 L334.0,343.2 L337.0,343.8 L340.0,344.5 L343.0,345.1 L346.0,345.7 L349.0,346.3 L352.0,346.9 L355.0,347.5 L358.0,348.2 L361.0,348.8 L364.0,349.4 L367.0,350.0 L370.0,350.6 L373.0,351.2 L376.0,351.8 L379.0,352.3 L382.0,352.9 L385.0,353.5 L388.0,354.1 L391.0,354.7 L394.0,355.2 L397.0,355.8 L400.0,356.4 L403.0,356.9 L406.0,357.5 L409.0,358.0 L412.0,358.6 L415.0,359.1 L418.0,359.7 L421.0,360.2 L424.0,360.8 L427.0,361.3 L430.0,361.8 L433.0,362.4 L436.0,362.9 L439.0,363.4 L442.0,363.9 L445.0,364.5 L448.0,365.0 L451.0,365.5 L454.0,366.0 L457.0,366.5 L460.0,367.0 L463.0,367.5 L466.0,368.0 L469.0,368.5 L472.0,368.9 L475.0,369.4 L478.0,369.9 L481.0,370.4 L484.0,370.9 L487.0,371.3 L490.0,371.8 L493.0,372.2 L496.0,372.7 L499.0,373.2 L502.0,373.6 L505.0,374.1 L508.0,374.5 L511.0,374.9 L514.0,375.4 L517.0,375.8 L520.0,376.2 L523.0,376.7 L526.0,377.1 L529.0,377.5 L532.0,377.9 L535.0,378.3 L538.0,378.7 L541.0,379.2 L544.0,379.6 L547.0,380.0 L550.0,380.3 L553.0,380.7 L556.0,381.1 L559.0,381.5 L562.0,381.9 L565.0,382.3 L568.0,382.6 L571.0,383.0 L574.0,383.4 L577.0,383.7 L580.0,384.1 L583.0,384.5 L586.0,384.8 L589.0,385.2 L592.0,385.5 L595.0,385.8 L598.0,386.2 L601.0,386.5 L604.0,386.8 L607.0,387.2 L610.0,387.5 L613.0,387.8 L616.0,388.1 L619.0,388.4 L622.0,388.7 L625.0,389.0"/>
<path d="M52.0,306.1 L55.0,307.1 L58.0,308.1 L61.0,309.0 L64.0,310.0 L67.0,311.0 L70.0,311.9 L73.0,312.8 L76.0,313.8 L79.0,314.7 L82.0,315.6 L85.0,316.5 L88.0,317.5 L91.0,318.4 L94.0,319.3 L97.0,320.1 L100.0,321.0 L103.0,321.9 L106.0,322.8 L109.0,323.6 L112.0,324.5 L115.0,325.4 L118.0,326.2 L121.0,327.1 L124.0,327.9 L127.0,328.7 L130.0,329.6 L133.0,330.4 L136.0,331.2 L139.0,332.0 L142.0,332.8 L145.0,333.6 L148.0,334.4 L151.0,335.2 L154.0,336.0 L157.0,336.7 L160.0,337.5 L163.0,338.3 L166.0,339.0 L169.0,339.8 L172.0,340.5 L175.0,341.3 L178.0,342.0 L181.0,342.8 L184.0,343.5 L187.0,344.2 L190.0,344.9 L193.0,345.6 L196.0,346.4 L199.0,347.1 L202.0,347.8 L205.0,348.5 L208.0,349.1 L211.0,349.8 L214.0,350.5 L217.0,351.2 L220.0,351.8 L223.0,352.5 L226.0,353.2 L229.0,353.8 L232.0,354.5 L235.0,355.1 L238.0,355.7 L241.0,356.4 L244.0,357.0 L247.0,357.6 L250.0,358.2 L253.0,358.9 L256.0,359.5 L259.0,360.1 L262.0,360.7 L265.0,361.3 L268.0,361.9 L271.0,362.4 L274.0,363.0 L277.0,363.6 L280.0,364.2 L283.0,364.8 L286.0,365.3 L289.0,365.9 L292.0,366.4 L295.0,367.0 L298.0,367.5 L301.0,368.1 L304.0,368.6 L307.0,369.1 L310.0,369.7 L313.0,370.2 L316.0,370.7 L319.0,371.2 L322.0,371.8 L325.0,372.3 L328.0,372.8 L331.0,373.3 L334.0,373.8 L337.0,374.3 L340.0,374.8 L343.0,375.2 L346.0,375.7 L349.0,376.2 L352.0,376.7 L355.0,377.1 L358.0,377.6 L361.0,378.1 L364.0,378.5 L367.0,379.0 L370.0,379.4 L373.0,379.9 L376.0,380.3 L379.0,380.8 L382.0,381.2 L385.0,381.6 L388.0,382.1 L391.0,382.5 L394.0,382.9 L397.0,383.3 L400.0,383.8 L403.0,384.2 L406.0,384.6 L409.0,385.0 L412.0,385.4 L415.0,385.8 L418.0,386.2 L421.0,386.6 L424.0,387.0 L427.0,387.4 L430.0,387.7 L433.0,388.1 L436.0,388.5 L439.0,388.9 L442.0,389.2 L445.0,389.6 L448.0,390.0 L451.0,390.3 L454.0,390.7 L457.0,391.1 L460.0,391.4 L463.0,391.8 L466.0,392.1 L469.0,392.4 L472.0,392.8 L475.0,393.1 L478.0,393.5 L481.0,393.8 L484.0,394.1 L487.0,394.5 L490.0,394.8 L493.0,395.1 L496.0,395.4 L499.0,395.7 L502.0,396.0 L505.0,396.4 L508.0,396.7 L511.0,397.0 L514.0,397.3 L517.0,397.6 L520.0,397.9 L523.0,398.2 L526.0,398.5 L529.0,398.8 L532.0,399.1 L535.0,399.3 L538.0,399.6 L541.0,399.9 L544.0,400.2 L547.0,400.5 L550.0,400.7 L553.0,401.0 L556.0,401.3 L559.0,401.6 L562.0,401.8 L565.0,402.1 L568.0,402.4 L571.0,402.6 L574.0,402.9 L577.0,403.1 L580.0,403.4 L583.0,403.6 L586.0,403.9 L589.0,404.1 L592.0,404.4 L595.0,404.6 L598.0,404.9 L601.0,405.1 L604.0,405.4 L607.0,405.6 L610.0,405.8 L613.0,406.1 L616.0,406.3 L619.0,406.6 L622.0,406.8 L625.0,407.0"/>
<path d="M52.0,361.6 L55.0,362.3 L58.0,363.0 L61.0,363.7 L64.0,364.4 L67.0,365.1 L70.0,365.8 L73.0,366.4 L76.0,367.1 L79.0,367.8 L82.0,368.4 L85.0,369.1 L88.0,369.8 L91.0,370.4 L94.0,371.0 L97.0,371.7 L100.0,372.3 L103.0,372.9 L106.0,373.6 L109.0,374.2 L112.0,374.8 L115.0,375.4 L118.0,376.0 L121.0,376.6 L124.0,377.2 L127.0,377.8 L130.0,378.4 L133.0,379.0 L136.0,379.5 L139.0,380.1 L142.0,380.7 L145.0,381.2 L148.0,381.8 L151.0,382.3 L154.0,382.9 L157.0,383.4 L160.0,384.0 L163.0,384.5 L166.0,385.1 L169.0,385.6 L172.0,386.1 L175.0,386.6 L178.0,387.1 L181.0,387.7 L184.0,388.2 L187.0,388.7 L190.0,389.2 L193.0,389.7 L196.0,390.2 L199.0,390.6 L202.0,391.1 L205.0,391.6 L208.0,392.1 L211.0,392.6 L214.0,393.0 L217.0,393.5 L220.0,394.0 L223.0,394.4 L226.0,394.9 L229.0,395.3 L232.0,395.8 L235.0,396.2 L238.0,396.7 L241.0,397.1 L244.0,397.5 L247.0,398.0 L250.0,398.4 L253.0,398.8 L256.0,399.2 L259.0,399.7 L262.0,400.1 L265.0,400.5 L268.0,400.9 L271.0,401.3 L274.0,401.7 L277.0,402.1 L280.0,402.5 L283.0,402.9 L286.0,403.3 L289.0,403.7 L292.0,404.1 L295.0,404.5 L298.0,404.8 L301.0,405.2 L304.0,405.6 L307.0,406.0 L310.0,406.3 L313.0,406.7 L316.0,407.1 L319.0,407.4 L322.0,407.8 L325.0,408.2 L328.0,408.5 L331.0,408.9 L334.0,409.2 L337.0,409.6 L340.0,409.9 L343.0,410.3 L346.0,410.6 L349.0,411.0 L352.0,411.3 L355.0,411.6 L358.0,412.0 L361.0,412.3 L364.0,412.6 L367.0,412.9 L370.0,413.3 L373.0,413.6 L376.0,413.9 L379.0,414.2 L382.0,414.5 L385.0,414.9 L388.0,415.2 L391.0,415.5 L394.0,415.8 L397.0,416.1 L400.0,416.4 L403.0,416.7 L406.0,417.0 L409.0,417.3 L412.0,417.6 L415.0,417.9 L418.0,418.2 L421.0,418.4 L424.0,418.7 L427.0,419.0 L430.0,419.3 L433.0,419.6 L436.0,419.8 L439.0,420.1 L442.0,420.4 L445.0,420.7 L448.0,420.9 L451.0,421.2 L454.0,421.5 L457.0,421.7 L460.0,422.0 L463.0,422.3 L466.0,422.5 L469.0,422.8 L472.0,423.0 L475.0,423.3 L478.0,423.5 L481.0,423.8 L484.0,424.0 L487.0,424.3 L490.0,424.5 L493.0,424.8 L496.0,425.0 L499.0,425.2 L502.0,425.5 L505.0,425.7 L508.0,426.0 L511.0,426.2 L514.0,426.4 L517.0,426.7 L520.0,426.9 L523.0,427.1 L526.0,427.3 L529.0,427.6 L532.0,427.8 L535.0,428.0 L538.0,428.2 L541.0,428.4 L544.0,428.6 L547.0,428.9 L550.0,429.1 L553.0,429.3 L556.0,429.5 L559.0,429.7 L562.0,429.9 L565.0,430.1 L568.0,430.3 L571.0,430.5 L574.0,430.7 L577.0,430.9 L580.0,431.1 L583.0,431.3 L586.0,431.5 L589.0,431.7 L592.0,431.9 L595.0,432.1 L598.0,432.3 L601.0,432.5 L604.0,432.7 L607.0,432.8 L610.0,433.0 L613.0,433.2 L616.0,433.4 L619.0,433.6 L622.0,433.8 L625.0,433.9"/>
</g>
</g>
<text x="309.4" y="282.5" font-size="11.7" fill="#3a1a14" stroke="#3a1a14" stroke-width="0.3" text-anchor="middle" textLength="20.2" lengthAdjust="spacingAndGlyphs">130</text>
<text x="309.4" y="297.4" font-size="11.7" fill="#3a1a14" stroke="#3a1a14" stroke-width="0.3" text-anchor="middle" textLength="20.2" lengthAdjust="spacingAndGlyphs">120</text>
<text x="309.4" y="314.8" font-size="11.7" fill="#3a1a14" stroke="#3a1a14" stroke-width="0.3" text-anchor="middle" textLength="20.2" lengthAdjust="spacingAndGlyphs">110</text>
<text x="309.4" y="330.7" font-size="11.7" fill="#3a1a14" stroke="#3a1a14" stroke-width="0.3" text-anchor="middle" textLength="20.2" lengthAdjust="spacingAndGlyphs">105</text>
<text x="309.4" y="342.6" font-size="11.7" fill="#3a1a14" stroke="#3a1a14" stroke-width="0.3" text-anchor="middle" textLength="20.2" lengthAdjust="spacingAndGlyphs">100</text>
<text x="309.35" y="374.9" font-size="11.7" fill="#3a1a14" stroke="#3a1a14" stroke-width="0.3" text-anchor="middle" textLength="13.7" lengthAdjust="spacingAndGlyphs">90</text>
<text x="309.35" y="409.9" font-size="11.7" fill="#3a1a14" stroke="#3a1a14" stroke-width="0.3" text-anchor="middle" textLength="13.7" lengthAdjust="spacingAndGlyphs">80</text>
<text x="133.4" y="162.5" font-size="15.3" fill="#7a3592" stroke="#7a3592" stroke-width="0.25" textLength="128.7" lengthAdjust="spacing">EXTREMELY HOT</text>
<text x="155.2" y="265.2" font-size="15.3" fill="#c1272d" stroke="#c1272d" stroke-width="0.25" textLength="83.1" lengthAdjust="spacing">VERY HOT</text>
<text x="181.2" y="324.2" font-size="15.3" fill="#c8672a" stroke="#c8672a" stroke-width="0.25" textLength="32.9" lengthAdjust="spacing">HOT</text>
<text x="146.6" y="373.8" font-size="15.3" fill="#e07f28" stroke="#e07f28" stroke-width="0.25" textLength="100.5" lengthAdjust="spacing">VERY WARM</text>
<text x="172.3" y="431" font-size="15.3" fill="#2f7d22" stroke="#2f7d22" stroke-width="0.25" textLength="49.3" lengthAdjust="spacing">WARM</text>
<text transform="translate(380.3,297.1) rotate(12.1)" x="0" y="0" font-size="17.8" fill="#36213c" textLength="229" lengthAdjust="spacingAndGlyphs">Apparent Temperature (°F)</text>
<rect x="335.6" y="116.7" width="278.4" height="19.4" fill="#1c1416"/>
<rect x="335.6" y="136.1" width="278.4" height="34" fill="#bd7fb0"/>
<rect x="335.6" y="170.3" width="278.4" height="34.3" fill="#ec6054"/>
<rect x="335.6" y="204.6" width="278.4" height="33" fill="#f7a256"/>
<rect x="335.6" y="237.6" width="278.4" height="32.4" fill="#f2e252"/>
<g stroke="#1c1416" fill="none">
<rect x="335.6" y="116.7" width="278.4" height="153.3" stroke-width="1.8"/>
<line x1="335.6" y1="170.3" x2="614.0" y2="170.3" stroke-width="1.8"/>
<line x1="335.6" y1="204.6" x2="614.0" y2="204.6" stroke-width="1.8"/>
<line x1="335.6" y1="237.6" x2="614.0" y2="237.6" stroke-width="1.8"/>
<line x1="417.6" y1="116.7" x2="417.6" y2="270" stroke-width="1.6"/>
</g>
<text x="376" y="125.4" font-size="7.6" font-weight="bold" fill="#fff" text-anchor="middle" textLength="77.8" lengthAdjust="spacingAndGlyphs">Heat Index/Apparent</text>
<text x="376" y="133.1" font-size="7.6" font-weight="bold" fill="#fff" text-anchor="middle" textLength="47.3" lengthAdjust="spacingAndGlyphs">Temperature</text>
<text x="428.8" y="130.1" font-size="7.9" font-weight="bold" fill="#fff" textLength="174.2" lengthAdjust="spacingAndGlyphs">General Affect on People in High Risk Groups</text>
<text x="352.3" y="155.7" font-size="10.8" font-weight="bold" fill="#7d3a98" textLength="41.2" lengthAdjust="spacingAndGlyphs">≥130°F</text>
<text x="338.6" y="192.1" font-size="10.8" font-weight="bold" fill="#c5342f" textLength="75.7" lengthAdjust="spacingAndGlyphs">105°F - 129°F</text>
<text x="341.2" y="224.1" font-size="10.8" font-weight="bold" fill="#cc6a2c" textLength="69.4" lengthAdjust="spacingAndGlyphs">90°F - 104°F</text>
<text x="346.8" y="258.2" font-size="10.8" font-weight="bold" fill="#e09024" textLength="58" lengthAdjust="spacingAndGlyphs">80°F - 89°F</text>
<text x="419.6" y="151.0" font-size="8.6" font-weight="bold" fill="#7d3a98" textLength="154.5" lengthAdjust="spacingAndGlyphs">Heat/Sunstroke HIGHLY LIKELY with</text>
<text x="419.6" y="160.0" font-size="8.6" font-weight="bold" fill="#7d3a98" textLength="84.0" lengthAdjust="spacingAndGlyphs">continued exposure</text>
<text x="419.6" y="180.3" font-size="8.6" font-weight="bold" fill="#c5342f" textLength="184.0" lengthAdjust="spacingAndGlyphs">Sunstroke, heat cramps, or heat exhaustion</text>
<text x="419.6" y="189.4" font-size="8.6" font-weight="bold" fill="#c5342f" textLength="166.0" lengthAdjust="spacingAndGlyphs">LIKELY, and heatstroke POSSIBLE with</text>
<text x="419.6" y="198.6" font-size="8.6" font-weight="bold" fill="#c5342f" textLength="185.0" lengthAdjust="spacingAndGlyphs">prolonged exposure and/or physical activity</text>
<text x="419.6" y="214.1" font-size="8.6" font-weight="bold" fill="#cc6a2c" textLength="183.4" lengthAdjust="spacingAndGlyphs">Sunstroke, heat cramps, or heat exhaustion</text>
<text x="419.6" y="224.0" font-size="8.6" font-weight="bold" fill="#cc6a2c" textLength="184.0" lengthAdjust="spacingAndGlyphs">POSSIBLE with prolonged exposure and/or</text>
<text x="419.6" y="232.8" font-size="8.6" font-weight="bold" fill="#cc6a2c" textLength="65.9" lengthAdjust="spacingAndGlyphs">physical activity</text>
<text x="419.6" y="251.2" font-size="8.6" font-weight="bold" fill="#e09024" textLength="146.4" lengthAdjust="spacingAndGlyphs">Fatigue POSSIBLE with prolonged</text>
<text x="419.6" y="260.6" font-size="8.6" font-weight="bold" fill="#e09024" textLength="138.1" lengthAdjust="spacingAndGlyphs">exposure and/or physical activity</text>
<rect x="57.3" y="107.0" width="561.2" height="345.3" fill="none" stroke="#261c20" stroke-width="1.9"/>
<text x="60.7" y="464.6" font-size="7.5" fill="#383838" textLength="152.4" lengthAdjust="spacingAndGlyphs">www.srh.noaa.gov/srh/jetstream/global/hi.htm</text>
<g transform="translate(559.1,480.5)">
<circle r="17.3" fill="#fff" stroke="#dcd6ea" stroke-width="0.9"/>
<circle r="16" fill="#22a6e4"/>
<path d="M-16.1,-6 C-10,-3 -5,2.5 -1.4,5.6 C3,3 8,-2.5 15.6,-5 A16,16 0 0 0 -16.1,-6 Z" fill="#fff"/>
<path d="M-13.3,-9.5 C-8,-4.5 -4.5,0.5 -1.2,4 C3,1 8,-5 13.3,-9.5 A20.2,20.2 0 0 0 -13.3,-9.5 Z" fill="#1f50a2"/>
<path d="M-5.7,7.2 C3,5.5 9,0.5 14.8,-5.3 C9,-1.3 3,3.5 -5.7,5.8 Z" fill="#fff"/>
<text x="0" y="-5" font-size="6" font-weight="bold" fill="#fff" text-anchor="middle" textLength="12.5" lengthAdjust="spacingAndGlyphs">noaa</text>
</g>
<g transform="translate(602.7,479.2)">
<circle r="16.8" fill="#fff" stroke="#f5c6be" stroke-width="1.7"/>
<circle cx="-17.6" cy="-2.7" r="0.9" fill="#333"/><circle cx="17.6" cy="-2.7" r="0.9" fill="#333"/>
<circle r="14.5" fill="#4a98d2"/>
<path d="M-14.5,3 C-15,-5 -9,-9 -4,-7 C0,-11 8,-10 10.5,-5 C15,-5 16,1 12.5,4 L10,6.5 C2,8 -8,7 -13.5,5.5 Z" fill="#2c2a8e"/>
<path d="M-11.5,4.5 C-6,2.5 -3,8 2,6 C6,4 9,7 12.5,3.5 C11,9 6,11.5 0,11.5 C-6,11.5 -10,8.5 -11.5,4.5 Z" fill="#f4f6fb"/>
<path d="M-6,8.5 C-2,7 2,10 6,8 C4,10.5 -2,11 -6,8.5 Z" fill="#4a98d2"/>
<path d="M-10,-11 L-8.6,-12 L-0.2,-3.8 L-2.2,-3.2 L7,6.5 L-4.2,-0.8 L-2.2,-1.5 Z" fill="#fff"/>
</g>
</svg></body></html>
